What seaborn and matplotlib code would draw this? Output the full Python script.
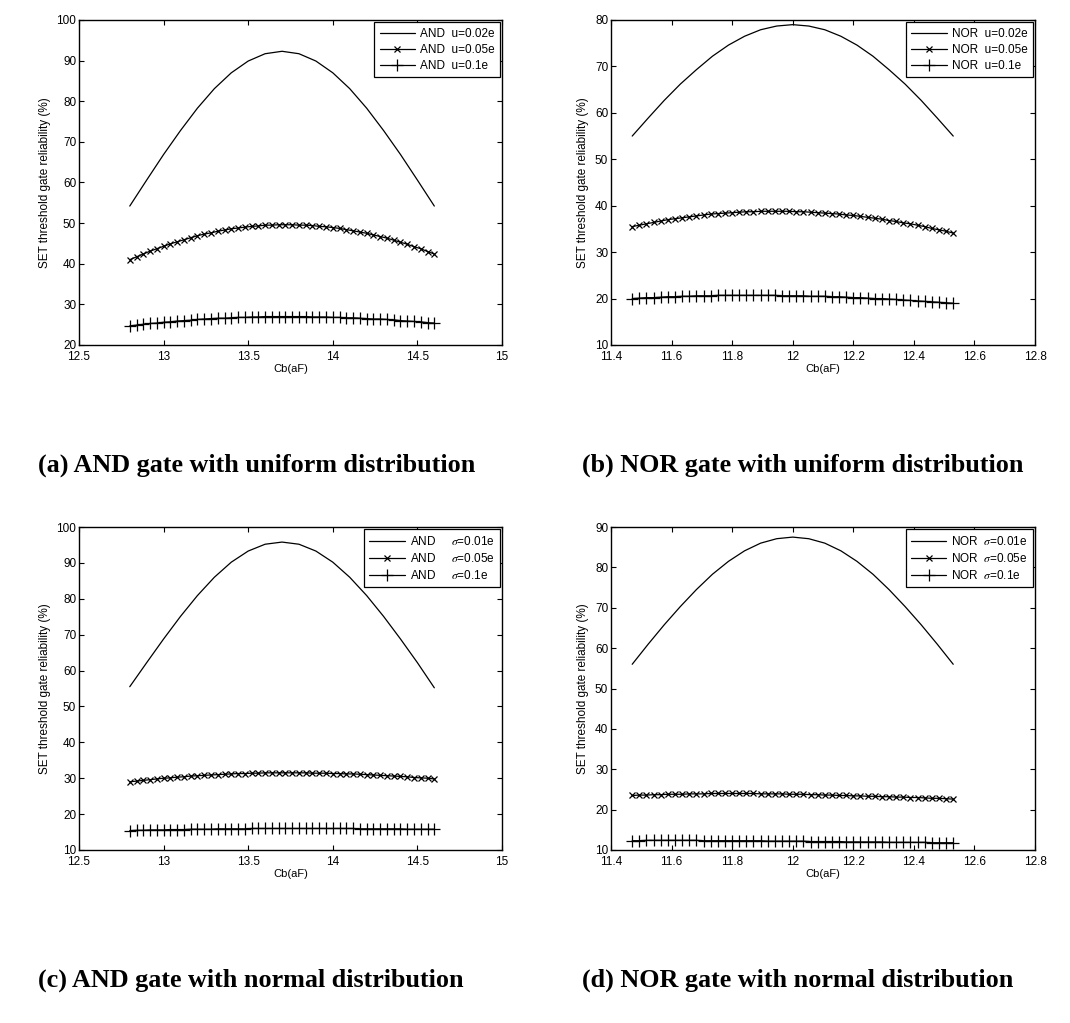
import numpy as np
import matplotlib
matplotlib.use("Agg")
import matplotlib.pyplot as plt
import seaborn as sns
from matplotlib.ticker import FixedLocator, FixedFormatter

sns.set_style("ticks")
plt.rcParams["font.family"] = ["Liberation Sans", "DejaVu Sans"]
plt.rcParams["mathtext.fontset"] = "stix"
plt.rcParams["text.color"] = "k"
plt.rcParams["axes.labelcolor"] = "k"
plt.rcParams["xtick.color"] = "k"
plt.rcParams["ytick.color"] = "k"

# ---------------- sampling grids (Cb in aF) ----------------
and_x_fine = [12.8, 12.9, 13.0, 13.1, 13.2, 13.3, 13.4, 13.5, 13.6, 13.7,
              13.8, 13.9, 14.0, 14.1, 14.2, 14.3, 14.4, 14.5, 14.6]
and_x = np.linspace(12.80, 14.60, 46)
nor_x_fine = np.linspace(11.47, 12.53, 21)
nor_x = np.linspace(11.47, 12.53, 46)

# ---------------- (a) AND gate, uniform distribution ----------------
and_u002 = [54.2, 60.6, 66.9, 72.8, 78.3, 83.1, 87.0, 89.9, 91.7, 92.3,
            91.7, 89.9, 87.0, 83.1, 78.3, 72.8, 66.9, 60.6, 54.2]
and_u005 = [41.0, 41.7, 42.4, 43.1, 43.7, 44.3, 44.9, 45.4, 45.9, 46.4,
            46.9, 47.3, 47.6, 48.0, 48.3, 48.6, 48.8, 49.0, 49.2, 49.3,
            49.5, 49.5, 49.6, 49.6, 49.6, 49.5, 49.5, 49.4, 49.2, 49.1,
            48.9, 48.7, 48.4, 48.1, 47.8, 47.5, 47.1, 46.7, 46.3, 45.8,
            45.3, 44.8, 44.2, 43.7, 43.0, 42.4]
and_u01 = [24.7, 24.9, 25.1, 25.3, 25.4, 25.6, 25.7, 25.9, 26.0, 26.1,
           26.3, 26.4, 26.5, 26.6, 26.6, 26.7, 26.8, 26.8, 26.9, 26.9,
           27.0, 27.0, 27.0, 27.0, 27.0, 27.0, 27.0, 26.9, 26.9, 26.9,
           26.8, 26.8, 26.7, 26.7, 26.6, 26.5, 26.4, 26.4, 26.3, 26.2,
           26.0, 25.9, 25.8, 25.7, 25.5, 25.4]

# ---------------- (b) NOR gate, uniform distribution ----------------
nor_u002 = [55.0, 58.9, 62.7, 66.2, 69.3, 72.2, 74.6, 76.5, 77.9, 78.7,
            79.0, 78.7, 77.9, 76.5, 74.6, 72.2, 69.3, 66.2, 62.7, 58.9, 55.0]
nor_u005 = [35.5, 35.8, 36.1, 36.4, 36.7, 37.0, 37.2, 37.4, 37.6, 37.8,
            38.0, 38.2, 38.3, 38.4, 38.5, 38.6, 38.7, 38.7, 38.8, 38.8,
            38.8, 38.8, 38.8, 38.7, 38.7, 38.6, 38.5, 38.4, 38.3, 38.2,
            38.0, 37.9, 37.7, 37.5, 37.3, 37.1, 36.8, 36.6, 36.3, 36.1,
            35.8, 35.5, 35.1, 34.8, 34.5, 34.1]
nor_u01 = [20.0, 20.1, 20.2, 20.2, 20.3, 20.4, 20.4, 20.5, 20.5, 20.6,
           20.6, 20.6, 20.7, 20.7, 20.7, 20.7, 20.7, 20.7, 20.7, 20.7,
           20.7, 20.6, 20.6, 20.6, 20.6, 20.5, 20.5, 20.5, 20.4, 20.4,
           20.3, 20.2, 20.2, 20.1, 20.0, 20.0, 19.9, 19.8, 19.7, 19.6,
           19.5, 19.4, 19.3, 19.2, 19.1, 19.0]

# ---------------- (c) AND gate, normal distribution ----------------
and_s001 = [55.5, 62.2, 68.8, 75.1, 80.9, 86.0, 90.2, 93.3, 95.2, 95.8,
            95.2, 93.3, 90.2, 86.0, 80.9, 75.1, 68.8, 62.2, 55.2]
and_s005 = [29.0, 29.2, 29.4, 29.6, 29.8, 30.0, 30.1, 30.3, 30.4, 30.6,
            30.7, 30.8, 30.9, 31.0, 31.1, 31.2, 31.3, 31.3, 31.4, 31.4,
            31.5, 31.5, 31.5, 31.5, 31.5, 31.5, 31.5, 31.4, 31.4, 31.4,
            31.3, 31.3, 31.2, 31.2, 31.1, 31.0, 30.9, 30.8, 30.7, 30.6,
            30.5, 30.4, 30.2, 30.1, 30.0, 29.8]
and_s01 = [15.4, 15.5, 15.5, 15.6, 15.6, 15.6, 15.7, 15.7, 15.7, 15.8,
           15.8, 15.8, 15.8, 15.9, 15.9, 15.9, 15.9, 15.9, 16.0, 16.0,
           16.0, 16.0, 16.0, 16.0, 16.0, 16.0, 16.0, 16.0, 16.0, 16.0,
           16.0, 16.0, 16.0, 16.0, 15.9, 15.9, 15.9, 15.9, 15.9, 15.9,
           15.9, 15.8, 15.8, 15.8, 15.8, 15.8]

# ---------------- (d) NOR gate, normal distribution ----------------
nor_s001 = [56.0, 61.0, 65.8, 70.3, 74.5, 78.3, 81.5, 84.1, 86.0, 87.1,
            87.5, 87.1, 86.0, 84.1, 81.5, 78.3, 74.5, 70.3, 65.8, 61.0, 56.0]
nor_s005 = [23.5, 23.6, 23.6, 23.7, 23.7, 23.8, 23.8, 23.8, 23.9, 23.9,
            23.9, 24.0, 24.0, 24.0, 24.0, 24.0, 24.0, 24.0, 23.9, 23.9,
            23.9, 23.9, 23.8, 23.8, 23.8, 23.7, 23.7, 23.6, 23.6, 23.5,
            23.5, 23.4, 23.4, 23.3, 23.3, 23.2, 23.2, 23.1, 23.1, 23.0,
            23.0, 22.9, 22.8, 22.8, 22.7, 22.6]
nor_s01 = [12.3, 12.3, 12.4, 12.4, 12.4, 12.4, 12.4, 12.4, 12.4, 12.4,
           12.3, 12.3, 12.3, 12.3, 12.3, 12.3, 12.3, 12.3, 12.3, 12.2,
           12.2, 12.2, 12.2, 12.2, 12.2, 12.1, 12.1, 12.1, 12.1, 12.1,
           12.0, 12.0, 12.0, 12.0, 12.0, 12.0, 11.9, 11.9, 11.9, 11.9,
           11.9, 11.9, 11.8, 11.8, 11.8, 11.8]

# ---------------- labels and ticks ----------------
and_xticks = [12.5, 13.0, 13.5, 14.0, 14.5, 15.0]
and_xticklabels = ["12.5", "13", "13.5", "14", "14.5", "15"]
nor_xticks = [11.4, 11.6, 11.8, 12.0, 12.2, 12.4, 12.6, 12.8]
nor_xticklabels = ["11.4", "11.6", "11.8", "12", "12.2", "12.4", "12.6", "12.8"]

legend_a = ["AND  u=0.02e", "AND  u=0.05e", "AND  u=0.1e"]
legend_b = ["NOR  u=0.02e", "NOR  u=0.05e", "NOR  u=0.1e"]
legend_c = ["AND     $\\sigma$=0.01e", "AND     $\\sigma$=0.05e", "AND     $\\sigma$=0.1e"]
legend_d = ["NOR  $\\sigma$=0.01e", "NOR  $\\sigma$=0.05e", "NOR  $\\sigma$=0.1e"]

captions = ["(a) AND gate with uniform distribution",
            "(b) NOR gate with uniform distribution",
            "(c) AND gate with normal distribution",
            "(d) NOR gate with normal distribution"]

xlabel = "Cb(aF)"
ylabel = "SET threshold gate reliability (%)"

W, H = 1070, 1023
fig = plt.figure(figsize=(W / 100, H / 100), dpi=100)


def make_axes(left, top, width, height):
    return fig.add_axes([left / W, 1 - (top + height) / H, width / W, height / H])


def draw_panel(ax, x_line, y_line, x_mk, y_x, y_plus, labels,
               xlim, xticks, xticklabels, ylim, yticks):
    sns.lineplot(x=x_line, y=y_line, ax=ax, color="k", linewidth=0.9,
                 errorbar=None, label=labels[0])
    sns.lineplot(x=x_mk, y=y_x, ax=ax, color="k", linewidth=0.9,
                 marker="x", markersize=4, markeredgewidth=0.9,
                 markeredgecolor="k", errorbar=None, label=labels[1])
    sns.lineplot(x=x_mk, y=y_plus, ax=ax, color="k", linewidth=0.9,
                 marker="+", markersize=8, markeredgewidth=0.9,
                 markeredgecolor="k", errorbar=None, label=labels[2])
    ax.set_xlim(*xlim)
    ax.set_ylim(*ylim)
    ax.xaxis.set_major_locator(FixedLocator(xticks))
    ax.xaxis.set_major_formatter(FixedFormatter(xticklabels))
    ax.yaxis.set_major_locator(FixedLocator(yticks))
    ax.yaxis.set_major_formatter(FixedFormatter([str(v) for v in yticks]))
    ax.tick_params(direction="in", top=True, right=True, length=3.5,
                   width=0.8, labelsize=8.5, colors="k")
    ax.tick_params(axis="x", pad=4)
    ax.tick_params(axis="y", pad=2)
    for s in ax.spines.values():
        s.set_visible(True)
        s.set_linewidth(1.0)
        s.set_color("k")
    ax.set_xlabel(xlabel, fontsize=8, labelpad=1, color="k")
    ax.set_ylabel(ylabel, fontsize=8.5, labelpad=4, color="k")
    leg = ax.legend(loc="upper right", fontsize=8.5, frameon=True,
                    fancybox=False, edgecolor="k", framealpha=1,
                    handlelength=3.0, borderpad=0.45, labelspacing=0.35,
                    handletextpad=0.4, borderaxespad=0.2)
    leg.get_frame().set_linewidth(0.9)
    for t in leg.get_texts():
        t.set_color("k")


ax_a = make_axes(79, 20, 423, 325)
ax_b = make_axes(611, 20, 424, 325)
ax_c = make_axes(79, 527, 423, 323)
ax_d = make_axes(611, 527, 424, 323)

draw_panel(ax_a, and_x_fine, and_u002, and_x, and_u005, and_u01, legend_a,
           (12.5, 15.0), and_xticks, and_xticklabels,
           (20, 100), list(range(20, 101, 10)))
draw_panel(ax_b, nor_x_fine, nor_u002, nor_x, nor_u005, nor_u01, legend_b,
           (11.4, 12.8), nor_xticks, nor_xticklabels,
           (10, 80), list(range(10, 81, 10)))
draw_panel(ax_c, and_x_fine, and_s001, and_x, and_s005, and_s01, legend_c,
           (12.5, 15.0), and_xticks, and_xticklabels,
           (10, 100), list(range(10, 101, 10)))
draw_panel(ax_d, nor_x_fine, nor_s001, nor_x, nor_s005, nor_s01, legend_d,
           (11.4, 12.8), nor_xticks, nor_xticklabels,
           (10, 90), list(range(10, 91, 10)))

cap_font = dict(family=["Liberation Serif", "DejaVu Serif"], fontsize=18.8,
                fontweight="bold", va="center", ha="left", color="k")
fig.text(38 / W, 1 - 465 / H, captions[0], **cap_font)
fig.text(582 / W, 1 - 465 / H, captions[1], **cap_font)
fig.text(38 / W, 1 - 980 / H, captions[2], **cap_font)
fig.text(582 / W, 1 - 980 / H, captions[3], **cap_font)

fig.savefig("out.png", dpi=100, facecolor="white")
